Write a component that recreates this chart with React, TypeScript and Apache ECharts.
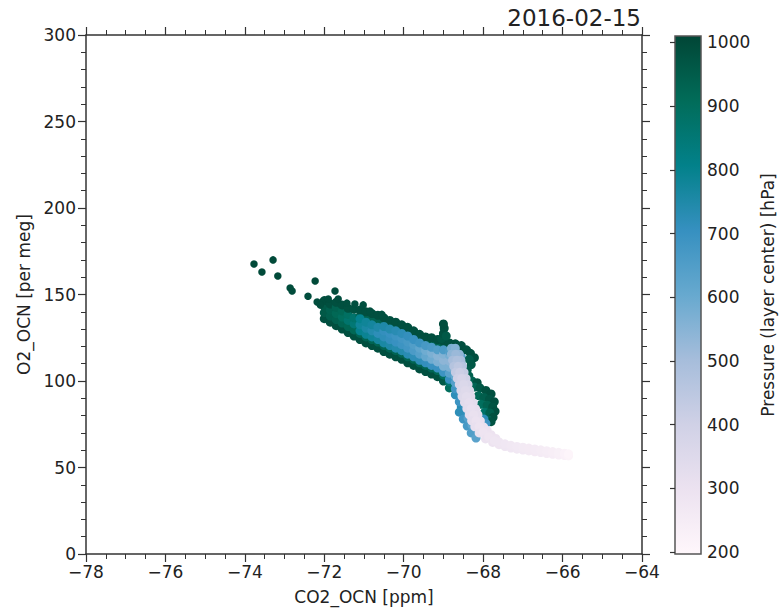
import React, { useEffect, useRef } from "react";
import * as echarts from "echarts";

const FONT = "'DejaVu Sans', 'Liberation Sans', sans-serif";
const TEXT = "#222";
const AXIS = "#333";

const titleText = "2016-02-15";
const xName = "CO2_OCN [ppm]";
const yName = "O2_OCN [per meg]";
const cbName = "Pressure (layer center) [hPa]";

const X_MIN = -78, X_MAX = -64, X_STEP = 2;
const Y_MIN = 0, Y_MAX = 300, Y_STEP = 50;
const CB_MIN = 197, CB_MAX = 1010;
const cbTicks = [200, 300, 400, 500, 600, 700, 800, 900, 1000];
const PUBUGN = ["#fff7fb", "#ece2f0", "#d0d1e6", "#a6bddb", "#67a9cf", "#3690c0", "#02818a", "#016c59", "#014636"];

// [CO2_OCN, O2_OCN, pressure]
const outliers = [
  [-73.77, 167.6, 1000], [-73.29, 170.0, 1000], [-73.57, 163.0, 1000], [-73.17, 160.7, 1000],
  [-72.86, 153.8, 995], [-72.81, 152.0, 995], [-72.23, 157.8, 1000], [-72.41, 149.0, 990],
  [-71.73, 152.0, 995], [-71.65, 147.4, 990], [-71.43, 145.0, 985], [-71.23, 144.5, 985],
  [-71.02, 144.0, 985], [-72.18, 145.7, 990], [-72.10, 144.0, 990], [-71.90, 147.4, 990],
  [-70.85, 140.5, 985], [-70.55, 138.5, 985],
];

const greenBand = [
  [-72.0, 136, 985], [-72.0, 139.5, 960], [-72.0, 143, 960], [-72.0, 146.5, 990],
  [-71.85, 134, 985], [-71.85, 137.5, 945], [-71.85, 141, 940], [-71.85, 144.5, 985],
  [-71.7, 132, 985], [-71.7, 135.5, 940], [-71.7, 139, 920], [-71.7, 142.5, 935], [-71.7, 145.5, 985],
  [-71.55, 130, 985], [-71.55, 133.5, 930], [-71.55, 137, 900], [-71.55, 140.5, 920], [-71.55, 144, 985],
  [-71.4, 128, 985], [-71.4, 131.5, 925], [-71.4, 135, 870], [-71.4, 138.5, 890], [-71.4, 142, 980],
  [-71.25, 126, 985], [-71.25, 129.5, 920], [-71.25, 133, 850], [-71.25, 136.5, 870], [-71.25, 141.5, 980],
  [-71.1, 124, 985], [-71.1, 127.5, 930], [-71.1, 137.5, 930], [-71.1, 141, 985],
  [-70.95, 122, 985], [-70.95, 125.5, 930], [-70.95, 136.5, 930], [-70.95, 140, 985],
  [-70.8, 120.5, 985], [-70.8, 124, 930], [-70.8, 135.5, 930], [-70.8, 139, 985],
  [-70.65, 119, 985], [-70.65, 122.5, 930], [-70.65, 134.5, 930], [-70.65, 138, 985],
  [-70.5, 117, 985], [-70.5, 120.5, 930], [-70.5, 133, 930], [-70.5, 136.5, 985],
  [-70.35, 115.5, 985], [-70.35, 119, 930], [-70.35, 131.5, 930], [-70.35, 135, 985],
  [-70.2, 114, 985], [-70.2, 117.5, 930], [-70.2, 130.5, 930], [-70.2, 134, 985],
  [-70.05, 112.5, 985], [-70.05, 116, 930], [-70.05, 129, 930], [-70.05, 132.5, 985],
  [-69.9, 110.5, 985], [-69.9, 114, 930], [-69.9, 127.5, 930], [-69.9, 131, 985],
  [-69.75, 109, 985], [-69.75, 112.5, 930], [-69.75, 125.5, 930], [-69.75, 129, 985],
  [-69.6, 107, 985], [-69.6, 110.5, 930], [-69.6, 123.5, 930], [-69.6, 127, 985],
  [-69.45, 105.5, 985], [-69.45, 109, 930], [-69.45, 122, 930], [-69.45, 125.5, 985],
  [-69.3, 104, 985], [-69.3, 107.5, 930], [-69.3, 121.5, 930], [-69.3, 125, 985],
  [-69.15, 102.5, 980], [-69.15, 106, 920], [-69.15, 120.5, 930], [-69.15, 124, 985],
  [-69.0, 100, 960], [-69.0, 103.5, 900], [-69.0, 119.5, 930], [-69.0, 123, 985],
  [-68.85, 96, 900], [-68.85, 99.5, 860], [-68.85, 118.5, 930], [-68.85, 122, 985],
  [-68.7, 118, 930], [-68.7, 121.5, 985],
  [-68.55, 117, 930], [-68.55, 120.5, 985],
  [-69.05, 124.5, 970], [-69.0, 127.5, 980], [-68.98, 130.5, 985], [-69.0, 133, 990], [-68.93, 126, 960],
];

const blueCore = [
  [-71.1, 129, 800], [-71.1, 132.5, 780], [-71.1, 136, 800],
  [-70.95, 127, 790], [-70.95, 130.5, 760], [-70.95, 134, 780],
  [-70.8, 125.5, 780], [-70.8, 129, 740], [-70.8, 132.5, 770],
  [-70.65, 124, 770], [-70.65, 127.5, 720], [-70.65, 131, 750],
  [-70.5, 122, 760], [-70.5, 125.5, 720], [-70.5, 129, 710], [-70.5, 131.5, 750],
  [-70.35, 120.5, 750], [-70.35, 124, 710], [-70.35, 127.5, 700], [-70.35, 130, 740],
  [-70.2, 119, 740], [-70.2, 122.5, 700], [-70.2, 126, 690], [-70.2, 129, 730],
  [-70.05, 117.5, 740], [-70.05, 121, 690], [-70.05, 124.5, 680], [-70.05, 127.5, 720],
  [-69.9, 115.5, 730], [-69.9, 119, 680], [-69.9, 122.5, 670], [-69.9, 126, 710],
  [-69.75, 114, 720], [-69.75, 117.5, 660], [-69.75, 121, 650], [-69.75, 124, 700],
  [-69.6, 112, 720], [-69.6, 115.5, 640], [-69.6, 119, 620], [-69.6, 122, 690],
  [-69.45, 110.5, 710], [-69.45, 114, 610], [-69.45, 117.5, 590], [-69.45, 120.5, 670],
  [-69.3, 109, 700], [-69.3, 112.5, 590], [-69.3, 116, 570], [-69.3, 119.5, 660],
  [-69.15, 107.5, 700], [-69.15, 111, 570], [-69.15, 114.5, 550], [-69.15, 118, 650],
  [-69.0, 105, 690], [-69.0, 108.5, 570], [-69.0, 112, 540], [-69.0, 115.5, 560], [-69.0, 118, 660],
  [-68.85, 101, 700], [-68.85, 104.5, 630], [-68.85, 108, 570], [-68.85, 111.5, 540], [-68.85, 115, 580], [-68.85, 117, 650],
  [-68.7, 92, 720], [-68.7, 95.5, 680], [-68.7, 99, 640], [-68.7, 102.5, 600], [-68.7, 106, 570], [-68.7, 109.5, 560], [-68.7, 113, 580], [-68.7, 116, 640],
  [-68.55, 85, 730], [-68.55, 88.5, 700], [-68.55, 92, 660], [-68.55, 95.5, 620], [-68.55, 110, 600], [-68.55, 114, 640],
  [-68.45, 80, 720], [-68.45, 83.5, 690],
  [-68.6, 82, 720], [-68.5, 78, 690], [-68.4, 74, 670], [-68.3, 70, 650], [-68.18, 67, 630],
  [-68.38, 78.5, 640], [-68.28, 74.5, 620], [-68.6, 88, 690],
];

const greenLobe = [
  [-68.42, 118, 980], [-68.32, 116, 985], [-68.22, 113.5, 985], [-68.35, 112.5, 950], [-68.3, 109.5, 960],
  [-68.4, 106.5, 950], [-68.36, 103, 940],
  [-68.28, 100, 930], [-68.15, 99, 980], [-68.22, 96.5, 930], [-68.08, 96, 960], [-67.93, 94.5, 980], [-67.8, 92.5, 985],
  [-68.12, 91.5, 920], [-67.98, 90.5, 945], [-67.84, 89.5, 970], [-67.72, 88, 985],
  [-68.05, 86.5, 900], [-67.9, 86, 935], [-67.76, 85, 975], [-67.7, 82.5, 985],
  [-67.96, 82, 880], [-67.83, 81.5, 940], [-67.75, 79, 980],
  [-67.88, 77.5, 930], [-67.8, 76.5, 975],
  [-67.98, 78, 720], [-67.93, 75.5, 690],
];

const tail = [
  [-68.80, 119, 575], [-68.70, 119, 560],
  [-68.80, 115.5, 540], [-68.60, 115.5, 535], [-68.69, 115.5, 520],
  [-68.77, 112, 500], [-68.56, 112, 495], [-68.66, 112, 480],
  [-68.74, 108.5, 465], [-68.52, 108.5, 460], [-68.63, 108.5, 445],
  [-68.70, 105, 430], [-68.48, 105, 425], [-68.59, 105, 410],
  [-68.65, 101.5, 400], [-68.43, 101.5, 395], [-68.54, 101.5, 380],
  [-68.60, 98, 375], [-68.38, 98, 370], [-68.49, 98, 360],
  [-68.56, 94.5, 360], [-68.34, 94.5, 355], [-68.45, 94.5, 345],
  [-68.53, 91, 345], [-68.31, 91, 340], [-68.42, 91, 330],
  [-68.47, 87.5, 335], [-68.25, 87.5, 330], [-68.36, 87.5, 320],
  [-68.41, 84, 327], [-68.19, 84, 322], [-68.30, 84, 312],
  [-68.35, 80.5, 321], [-68.13, 80.5, 316], [-68.24, 80.5, 306],
  [-68.29, 77, 315], [-68.07, 77, 310], [-68.18, 77, 300],
  [-68.21, 73.5, 310], [-67.99, 73.5, 305], [-68.10, 73.5, 295],
  [-68.10, 70, 305], [-67.90, 71.5, 300], [-68.00, 70.5, 290],
  [-67.94, 66.5, 300], [-67.80, 69, 295], [-67.86, 67.8, 285],
  [-67.76, 64.5, 295], [-67.68, 66.8, 290], [-67.72, 65.5, 280],
  [-67.6, 63.2, 285], [-67.6, 64.8, 280],
  [-67.45, 62.1, 280], [-67.45, 63.7, 275],
  [-67.3, 61.2, 275], [-67.3, 62.8, 270],
  [-67.15, 60.6, 270], [-67.15, 62.2, 266],
  [-67.0, 60.1, 266], [-67.0, 61.7, 262],
  [-66.85, 59.6, 262], [-66.85, 61.2, 258],
  [-66.7, 59.1, 258], [-66.7, 60.7, 254],
  [-66.55, 58.6, 254], [-66.55, 60.2, 250],
  [-66.4, 58.1, 250], [-66.4, 59.7, 246],
  [-66.25, 57.6, 244], [-66.25, 59.2, 240],
  [-66.1, 57.2, 236], [-66.1, 58.8, 232],
  [-65.95, 56.9, 224], [-65.95, 58.3, 220],
  [-65.85, 56.7, 212], [-65.85, 57.9, 208],
];

const fmtMinus = (v: number) => (v < 0 ? "\u2212" + Math.abs(v) : String(v));

function baseAxisStyle() {
  return {
    axisLine: { show: true, onZero: false, lineStyle: { color: AXIS, width: 1.5 } },
    axisTick: { show: true, inside: false, length: 8, lineStyle: { color: AXIS, width: 1.2 } },
    splitLine: { show: false },
    minorSplitLine: { show: false },
  };
}

export default function App() {
  const ref = useRef<HTMLDivElement>(null);
  useEffect(() => {
    if (!ref.current) return;
    const chart = echarts.init(ref.current, undefined, { renderer: "svg" });
    const dense = [...greenBand, ...blueCore, ...greenLobe, ...tail];
    const stops = PUBUGN.map((c, i) => ({ offset: i / (PUBUGN.length - 1), color: c }));
    const labelStyle = { fontFamily: FONT, fontSize: 17, color: TEXT };
    const xMinor = { show: true, splitNumber: 4, length: 5, lineStyle: { color: AXIS, width: 1 } };
    const yMinor = { show: true, splitNumber: 5, length: 5, lineStyle: { color: AXIS, width: 1 } };
    chart.setOption({
      animation: false,
      backgroundColor: "#ffffff",
      title: {
        text: titleText,
        right: 139,
        top: 6,
        padding: 0,
        textStyle: { fontFamily: FONT, fontSize: 23, fontWeight: "normal", color: TEXT },
      },
      grid: [
        { left: 86, top: 35, width: 556, height: 519 },
        { left: 675, top: 36, width: 26, height: 518 },
      ],
      xAxis: [
        {
          type: "value", gridIndex: 0, position: "bottom", min: X_MIN, max: X_MAX, interval: X_STEP,
          ...baseAxisStyle(), minorTick: xMinor,
          axisLabel: { ...labelStyle, margin: 9, formatter: fmtMinus },
          name: xName, nameLocation: "middle", nameGap: 34,
          nameTextStyle: { fontFamily: FONT, fontSize: 17, color: TEXT },
        },
        {
          type: "value", gridIndex: 0, position: "top", min: X_MIN, max: X_MAX, interval: X_STEP,
          ...baseAxisStyle(), minorTick: xMinor,
          axisLabel: { show: false },
        },
        { type: "value", gridIndex: 1, min: 0, max: 1, show: false },
      ],
      yAxis: [
        {
          type: "value", gridIndex: 0, position: "left", min: Y_MIN, max: Y_MAX, interval: Y_STEP,
          ...baseAxisStyle(), minorTick: yMinor,
          axisLabel: { ...labelStyle, margin: 10 },
          name: yName, nameLocation: "middle", nameGap: 52, nameRotate: 90,
          nameTextStyle: { fontFamily: FONT, fontSize: 17, color: TEXT },
        },
        {
          type: "value", gridIndex: 0, position: "right", min: Y_MIN, max: Y_MAX, interval: Y_STEP,
          ...baseAxisStyle(), minorTick: yMinor,
          axisLabel: { show: false },
        },
        {
          type: "value", gridIndex: 1, position: "right", min: CB_MIN, max: CB_MAX, z: 10,
          axisLine: { show: false },
          axisTick: { show: true, inside: true, length: 5, customValues: cbTicks, lineStyle: { color: AXIS, width: 1.2 } },
          axisLabel: { ...labelStyle, margin: 6, customValues: cbTicks, formatter: (v: number) => String(v) },
          splitLine: { show: false },
          name: cbName, nameLocation: "middle", nameGap: 58, nameRotate: 90,
          nameTextStyle: { fontFamily: FONT, fontSize: 17, color: TEXT },
        },
      ],
      visualMap: {
        type: "continuous", show: false, min: CB_MIN, max: CB_MAX, dimension: 2, seriesIndex: [0, 1],
        inRange: { color: PUBUGN },
      },
      series: [
        {
          type: "scatter", xAxisIndex: 0, yAxisIndex: 0, symbol: "circle", symbolSize: 9,
          data: dense, silent: true, itemStyle: { opacity: 1 },
        },
        {
          type: "scatter", xAxisIndex: 0, yAxisIndex: 0, symbol: "circle", symbolSize: 7.5,
          data: outliers, silent: true, itemStyle: { opacity: 1 },
        },
        {
          type: "custom", xAxisIndex: 2, yAxisIndex: 2, silent: true,
          data: [[0, CB_MIN, CB_MAX]],
          renderItem: (params: any, api: any) => {
            const tl = api.coord([0, api.value(2)]);
            const br = api.coord([1, api.value(1)]);
            return {
              type: "rect",
              shape: { x: tl[0], y: tl[1], width: br[0] - tl[0], height: br[1] - tl[1] },
              style: { fill: new echarts.graphic.LinearGradient(0, 1, 0, 0, stops), stroke: "#555", lineWidth: 1.5 },
            };
          },
        },
      ],
    });
    return () => chart.dispose();
  }, []);
  return <div ref={ref} style={{ position: "fixed", left: 0, top: 0, width: 780, height: 616 }} />;
}
